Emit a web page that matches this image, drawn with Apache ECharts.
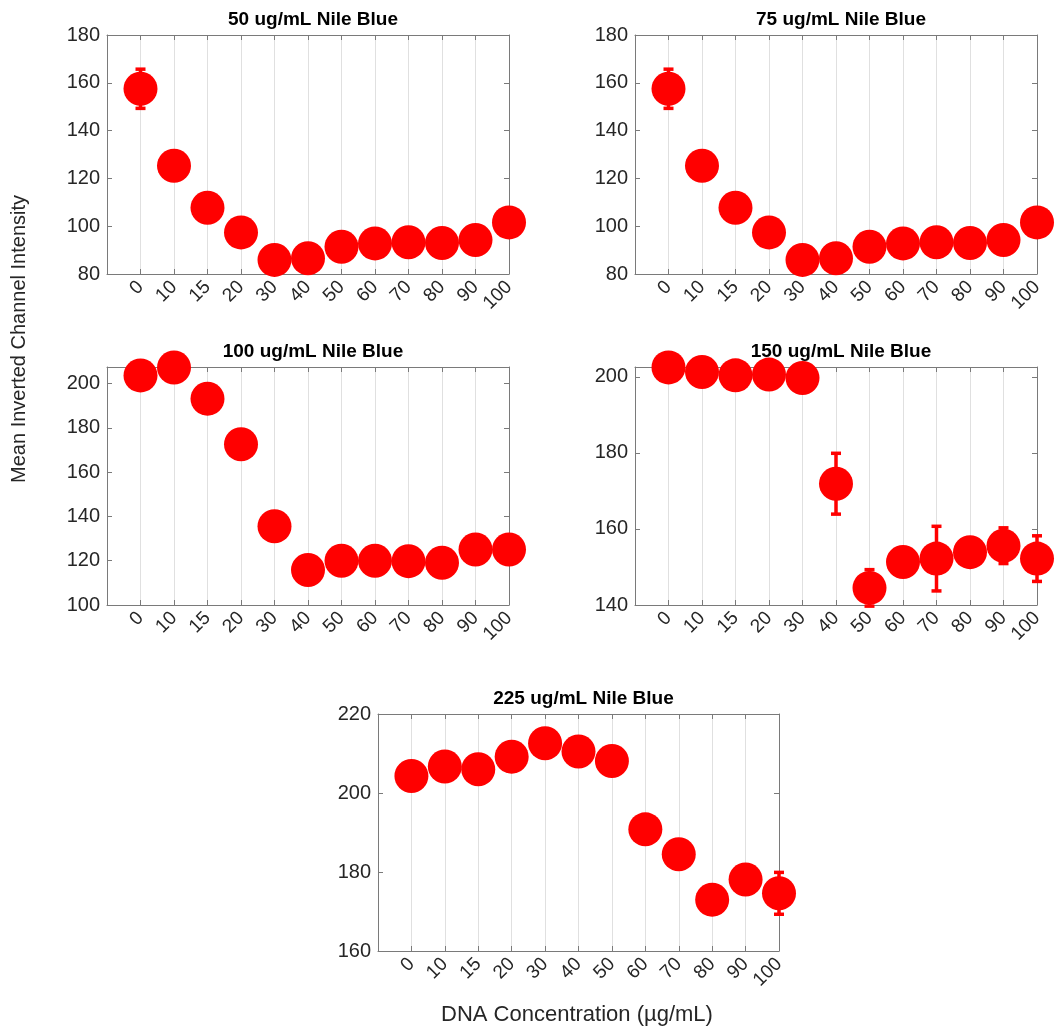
<!DOCTYPE html>
<html>
<head>
<meta charset="utf-8">
<script src="https://cdn.jsdelivr.net/npm/echarts@6/dist/echarts.min.js"></script>
<style>
  html, body { margin: 0; padding: 0; background: #fff; }
  #main { width: 1057px; height: 1034px; }
</style>
</head>
<body>
<div id="main"></div>
<script>
// DNA concentration categories (ug/mL)
var cats = ['0', '10', '15', '20', '30', '40', '50', '60', '70', '80', '90', '100'];
var titles = ['50 ug/mL Nile Blue', '75 ug/mL Nile Blue', '100 ug/mL Nile Blue', '150 ug/mL Nile Blue', '225 ug/mL Nile Blue'];

// mean inverted channel intensity per panel
var nb50 = [157.5, 125.3, 107.7, 97.4, 85.9, 86.6, 91.4, 92.8, 93.3, 93.0, 94.2, 101.6];
var nb50Err = [8.2, 0, 0, 0, 0, 0, 0, 0, 0, 0, 0, 0];
var nb75 = [157.5, 125.3, 107.7, 97.4, 85.9, 86.6, 91.4, 92.8, 93.3, 93.0, 94.2, 101.6];
var nb75Err = [8.2, 0, 0, 0, 0, 0, 0, 0, 0, 0, 0, 0];
var nb100 = [203.7, 207.3, 193.2, 172.6, 135.6, 115.8, 120.0, 120.0, 119.8, 119.1, 125.1, 125.1];
var nb100Err = [0, 0, 0, 0, 0, 0, 0, 0, 0, 0, 0, 0];
var nb150 = [202.5, 201.3, 200.4, 200.6, 199.7, 171.9, 144.5, 151.3, 152.2, 153.9, 155.6, 152.2];
var nb150Err = [0, 0, 0, 0, 0, 8.0, 4.8, 0, 8.5, 0, 4.7, 6.0];
var nb225 = [204.3, 206.7, 206.0, 209.2, 212.6, 210.5, 208.1, 190.8, 184.5, 173.0, 178.1, 174.6];
var nb225Err = [0, 0, 0, 0, 0, 0, 0, 0, 0, 0, 0, 5.3];

// y limits per panel
var yMin = [80, 80, 100, 140, 160];
var yMax = [180, 180, 207.5, 202.6, 220];

var panels = [
    { vals: nb50, errs: nb50Err },
    { vals: nb75, errs: nb75Err },
    { vals: nb100, errs: nb100Err },
    { vals: nb150, errs: nb150Err },
    { vals: nb225, errs: nb225Err }
];

// plot boxes (px)
var boxes = [
    { left: 107, top: 35, width: 402, height: 239 },
    { left: 635, top: 35, width: 402, height: 239 },
    { left: 107, top: 367, width: 402, height: 238 },
    { left: 635, top: 367, width: 402, height: 238 },
    { left: 378, top: 714, width: 401, height: 237 }
];

var FONT = '"Liberation Sans", Arial, Helvetica, sans-serif';
var frameColor = '#7a7a7a';
var textColor = '#262626';
var red = '#ff0000';

var grids = [], xAxes = [], yAxes = [], series = [], titleList = [];

for (var i = 0; i < panels.length; i++) {
    var b = boxes[i];
    grids.push({ left: b.left, top: b.top, width: b.width, height: b.height, containLabel: false });

    titleList.push({
        text: titles[i],
        left: b.left + b.width / 2,
        top: b.top - 30,
        textAlign: 'center',
        textStyle: { fontFamily: FONT, fontSize: 19, fontWeight: 'bold', color: '#000' }
    });

    // bottom x axis
    xAxes.push({
        type: 'value', gridIndex: i, min: 0, max: 12, interval: 1, position: 'bottom',
        axisLine: { show: true, onZero: false, lineStyle: { color: frameColor, width: 1 } },
        axisTick: { show: true, inside: true, length: 5, lineStyle: { color: frameColor } },
        splitLine: { show: true, lineStyle: { color: '#e0e0e0', width: 1 } },
        axisLabel: {
            rotate: 45, margin: 10, padding: [0, 0, 16, 0], fontFamily: FONT, fontSize: 19, color: textColor,
            formatter: function (v) { return (v >= 1 && v <= 12) ? cats[v - 1] : ''; }
        }
    });
    // top x axis (mirror ticks)
    xAxes.push({
        type: 'value', gridIndex: i, min: 0, max: 12, interval: 1, position: 'top',
        axisLine: { show: true, onZero: false, lineStyle: { color: frameColor, width: 1 } },
        axisTick: { show: true, inside: true, length: 5, lineStyle: { color: frameColor } },
        splitLine: { show: false }, axisLabel: { show: false }
    });
    // left y axis
    yAxes.push({
        type: 'value', gridIndex: i, min: yMin[i], max: yMax[i], interval: 20, position: 'left',
        axisLine: { show: true, onZero: false, lineStyle: { color: frameColor, width: 1 } },
        axisTick: { show: true, inside: true, length: 5, lineStyle: { color: frameColor } },
        splitLine: { show: false },
        axisLabel: { fontFamily: FONT, fontSize: 20, color: textColor, margin: 7, showMaxLabel: yMax[i] % 20 === 0 }
    });
    // right y axis (mirror ticks)
    yAxes.push({
        type: 'value', gridIndex: i, min: yMin[i], max: yMax[i], interval: 20, position: 'right',
        axisLine: { show: true, onZero: false, lineStyle: { color: frameColor, width: 1 } },
        axisTick: { show: true, inside: true, length: 5, lineStyle: { color: frameColor } },
        splitLine: { show: false }, axisLabel: { show: false }
    });

    var pts = [], errPts = [];
    for (var k = 0; k < cats.length; k++) {
        pts.push([k + 1, panels[i].vals[k]]);
        if (panels[i].errs[k] > 0) errPts.push([k + 1, panels[i].vals[k], panels[i].errs[k]]);
    }

    series.push({
        type: 'custom',
        xAxisIndex: 2 * i, yAxisIndex: 2 * i,
        z: 2,
        clip: false,
        data: errPts,
        renderItem: function (params, api) {
            var x = api.value(0), y = api.value(1), e = api.value(2);
            var hi = api.coord([x, y + e]);
            var lo = api.coord([x, y - e]);
            var cap = 5;
            var st = { stroke: red, lineWidth: 3.5 };
            return {
                type: 'group',
                children: [
                    { type: 'line', shape: { x1: hi[0], y1: hi[1], x2: lo[0], y2: lo[1] }, style: st },
                    { type: 'line', shape: { x1: hi[0] - cap, y1: hi[1], x2: hi[0] + cap, y2: hi[1] }, style: st },
                    { type: 'line', shape: { x1: lo[0] - cap, y1: lo[1], x2: lo[0] + cap, y2: lo[1] }, style: st }
                ]
            };
        }
    });

    series.push({
        type: 'scatter',
        xAxisIndex: 2 * i, yAxisIndex: 2 * i,
        z: 3,
        clip: false,
        symbol: 'circle',
        symbolSize: 34,
        itemStyle: { color: red, opacity: 1 },
        data: pts
    });
}

var myChart = echarts.init(document.getElementById('main'));
myChart.setOption({
    animation: false,
    backgroundColor: '#fff',
    title: titleList,
    grid: grids,
    xAxis: xAxes,
    yAxis: yAxes,
    series: series,
    graphic: [
        {
            type: 'text', left: 9, top: 195, rotation: Math.PI / 2,
            style: { text: 'Mean Inverted Channel Intensity', font: '20px ' + FONT, fill: textColor }
        },
        {
            type: 'text', left: 441, top: 1004,
            style: { text: 'DNA Concentration (\u00b5g/mL)', font: '22px ' + FONT, fill: textColor }
        }
    ]
});
</script>
</body>
</html>
